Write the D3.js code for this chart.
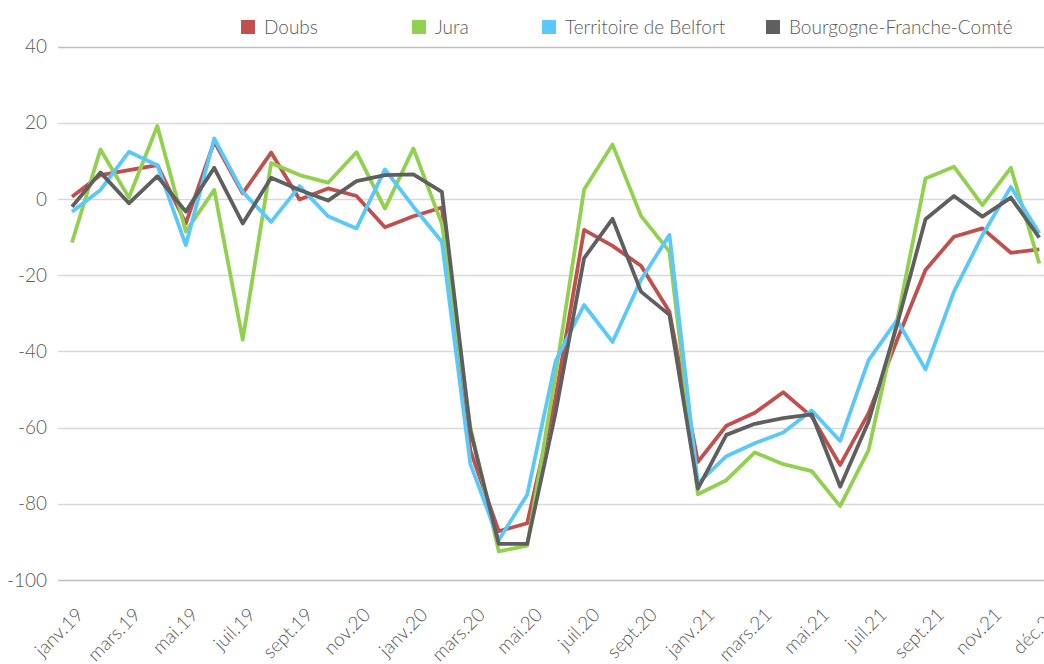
<!DOCTYPE html>
<html>
<head>
<meta charset="utf-8">
<script src="https://cdn.jsdelivr.net/npm/d3@7"></script>
<style>
  body { margin: 0; background: #fff; }
  text { font-family: Lato, "Open Sans", sans-serif; font-weight: 300; fill: #595959; }
</style>
</head>
<body>
<div id="chart"></div>
<script>
// monthly series, janv.19 -> nov.21 (35 points)
var doubs = [0.6, 6.3, 7.6, 8.9, -6.4, 15.1, 1.5, 12.2, -0.1, 2.8, 0.8, -7.4, -4.5, -2.2,
  -66, -87.2, -85.1, -52, -8.1, -12.3, -17.5, -29.6, -69, -59.5, -56.1, -50.7, -57.1, -69.8,
  -56.2, -37, -18.6, -9.9, -7.7, -14.1, -13.2];
var jura = [-11.4, 13.0, 0.4, 19.2, -8.5, 2.4, -36.9, 9.5, 6.3, 4.3, 12.3, -2.5, 13.3, -6.5,
  -59.8, -92.5, -91, -46, 2.5, 14.3, -4.4, -13.8, -77.5, -73.8, -66.5, -69.6, -71.4, -80.6,
  -65.9, -32, 5.4, 8.5, -1.6, 8.2, -16.9];
var belfort = [-3.3, 2.4, 12.4, 8.9, -12.1, 15.9, 1.9, -6.0, 3.4, -4.5, -7.7, 7.8, -2.0, -11.2,
  -69.5, -89.5, -77.6, -42.5, -27.8, -37.5, -21.2, -9.4, -74.7, -67.5, -64.1, -61.3, -55.5, -63.5,
  -42.3, -31.8, -44.7, -24.3, -9.5, 3.2, -9.0];
var bfc = [-2.0, 7.0, -1.1, 6.0, -3.3, 8.2, -6.4, 5.6, 2.4, -0.4, 4.7, 6.3, 6.5, 1.9,
  -60.7, -90.5, -90.5, -56, -15.5, -5.2, -24.3, -30.4, -76, -61.9, -59, -57.5, -56.5, -75.5,
  -58.4, -33, -5.3, 0.8, -4.6, 0.4, -10.1];

var seriesNames = ["Doubs", "Jura", "Territoire de Belfort", "Bourgogne-Franche-Comté"];
var colors = ["#C0504D", "#92D050", "#5BC8FA", "#5F5F5F"];

var xLabels = ["janv.19", "mars.19", "mai.19", "juil.19", "sept.19", "nov.20", "janv.20",
  "mars.20", "mai.20", "juil.20", "sept.20", "nov.20", "janv.21", "mars.21", "mai.21",
  "juil.21", "sept.21", "nov.21", "déc.21"];
var yTicks = [-100, -80, -60, -40, -20, 0, 20, 40];

var w = 1044, h = 664;
var left = 58;

var svg = d3.select("#chart").append("svg")
  .attr("width", w)
  .attr("height", h);

var x = d3.scaleLinear()
  .domain([0, doubs.length - 1])
  .range([72, 1039.3]);

var y = d3.scaleLinear()
  .domain([-100, 40])
  .range([580, 46.7]);

var xLab = d3.scalePoint()
  .domain(xLabels)
  .range([84, 84 + 18 * 54.2]);

// gridlines
svg.append("g")
  .selectAll("line")
  .data(yTicks)
  .enter()
  .append("line")
  .attr("x1", left)
  .attr("x2", w)
  .attr("y1", function(d) { return Math.round(y(d)) + 0.5; })
  .attr("y2", function(d) { return Math.round(y(d)) + 0.5; })
  .style("stroke", function(d) { return (d === 40 || d === -100) ? "#BFBFBF" : "#D9D9D9"; })
  .style("stroke-width", "1.5px");

// y axis
var yAxis = d3.axisLeft(y)
  .tickValues(yTicks)
  .tickSize(0)
  .tickPadding(0)
  .tickFormat(function(d) { return String(d); });

var gy = svg.append("g")
  .attr("transform", "translate(47,0)")
  .call(yAxis);
gy.select(".domain").remove();
gy.selectAll("text")
  .style("font-size", "19px")
  .style("font-family", "Lato, 'Open Sans', sans-serif")
  .style("font-weight", "300")
  .attr("fill", "#595959");

// x axis labels
var xAxis = d3.axisBottom(xLab)
  .tickSize(0)
  .tickPadding(0);

var gx = svg.append("g")
  .attr("transform", "translate(0,616)")
  .call(xAxis);
gx.select(".domain").remove();
gx.selectAll("text")
  .attr("dy", "0")
  .attr("y", 0)
  .attr("text-anchor", "end")
  .attr("transform", "rotate(-45)")
  .style("font-size", "19px")
  .style("font-family", "Lato, 'Open Sans', sans-serif")
  .style("font-weight", "300")
  .attr("fill", "#595959");

// lines
var allSeries = [doubs, jura, belfort, bfc];
var line = d3.line()
  .x(function(d, i) { return x(i); })
  .y(function(d) { return y(d); });

svg.append("g")
  .selectAll("path")
  .data(allSeries)
  .enter()
  .append("path")
  .attr("d", line)
  .style("fill", "none")
  .style("stroke", function(d, i) { return colors[i]; })
  .style("stroke-width", "3.8px")
  .style("stroke-linejoin", "round");

// legend
var legX = [241, 412, 542, 766];
var leg = svg.append("g")
  .selectAll("g")
  .data(seriesNames)
  .enter()
  .append("g")
  .attr("transform", function(d, i) { return "translate(" + legX[i] + ",20)"; });

leg.append("rect")
  .attr("width", 14)
  .attr("height", 14)
  .style("fill", function(d, i) { return colors[i]; });

leg.append("text")
  .attr("x", 23)
  .attr("y", 14)
  .style("font-size", "19px")
  .text(function(d) { return d; });
</script>
</body>
</html>
